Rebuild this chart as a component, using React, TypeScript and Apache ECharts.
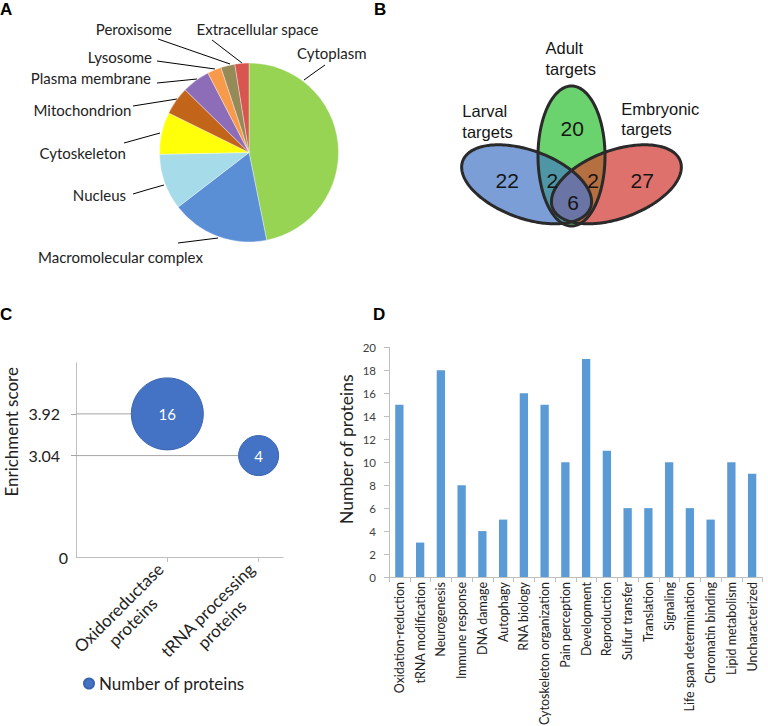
import React, { useEffect, useRef } from "react";
import * as echarts from "echarts";

// ---------- Data ----------
const pieNames = [
  "Cytoplasm",
  "Macromolecular complex",
  "Nucleus",
  "Cytoskeleton",
  "Mitochondrion",
  "Plasma membrane",
  "Lysosome",
  "Peroxisome",
  "Extracellular space",
];
const pieValues = [37, 14, 8, 6, 4, 4, 2, 2, 2];
const pieColors = ["#97D454", "#5A8FD6", "#A6DBE9", "#FFFF0A", "#C2651B", "#8E6DB8", "#F89A4C", "#968B58", "#D95550"];

const vennRegions = ["Adult only", "Larval only", "Embryonic only", "Larval & Adult", "Adult & Embryonic", "All three"];
const vennCounts = [20, 22, 27, 2, 2, 6];

const enrichCategories = [["Oxidoreductase", "proteins"], ["tRNA processing", "proteins"]];
const enrichScores = [3.92, 3.04];
const enrichCounts = [16, 4];
const enrichAxisFloor = 0.9; // broken axis floor, labelled "0"

const bioCategories = [
  "Oxidation-reduction", "tRNA modification", "Neurogenesis", "Immune response", "DNA damage",
  "Autophagy", "RNA biology", "Cytoskeleton organization", "Pain perception", "Development",
  "Reproduction", "Sulfur transfer", "Translation", "Signaling", "Life span determination",
  "Chromatin binding", "Lipid metabolism", "Uncharacterized",
];
const bioCounts = [15, 3, 18, 8, 4, 5, 16, 15, 10, 19, 11, 6, 6, 10, 6, 5, 10, 9];

// ---------- Layout helpers ----------
const CAL = "Lato, 'Open Sans', sans-serif";
const ARIAL = "'Liberation Sans', Arial, sans-serif";

const pieLabelPos: any[] = [
  { x: 297, y: 53, align: "left", line: [[325, 65], [315, 72], [304, 80]] },
  { x: 38, y: 257, align: "left", line: [[178, 243], [198, 240.5], [218, 238]] },
  { x: 126, y: 195, align: "right", line: [[133, 194], [148, 189.5], [164, 185]] },
  { x: 126, y: 152.5, align: "right", line: [[124, 143], [142, 138], [160, 133]] },
  { x: 131.5, y: 110, align: "right", line: [[133, 106], [155, 102.5], [177, 99]] },
  { x: 151, y: 78, align: "right", line: [[157, 83], [177, 81], [197, 79]] },
  { x: 152, y: 57, align: "right", line: [[157, 61], [186, 65], [215, 69]] },
  { x: 172, y: 28.5, align: "right", line: [[158, 39], [194, 51.5], [230, 64]] },
  { x: 196.5, y: 28.5, align: "left", line: [[212, 40], [227, 51.5], [242, 63]] },
];

type Ell = { cx: number; cy: number; rx: number; ry: number; deg: number };
const eAdult: Ell = { cx: 571.5, cy: 156, rx: 33.5, ry: 70, deg: 0 };
const eLarval: Ell = { cx: 526.6, cy: 184.3, rx: 68, ry: 34, deg: 20 };
const eEmbryo: Ell = { cx: 616.4, cy: 184.3, rx: 68, ry: 34, deg: -20 };

function ellipsePts(e: Ell, n = 240): number[][] {
  const t = (e.deg * Math.PI) / 180;
  const c = Math.cos(t), s = Math.sin(t);
  const pts: number[][] = [];
  for (let i = 0; i < n; i++) {
    const a = (2 * Math.PI * i) / n;
    const x = e.rx * Math.cos(a), y = e.ry * Math.sin(a);
    pts.push([e.cx + x * c - y * s, e.cy + x * s + y * c]);
  }
  return pts;
}
function inside(p: number[], e: Ell) {
  const t = (e.deg * Math.PI) / 180;
  const c = Math.cos(t), s = Math.sin(t);
  const dx = p[0] - e.cx, dy = p[1] - e.cy;
  const u = dx * c + dy * s, v = -dx * s + dy * c;
  return (u / e.rx) ** 2 + (v / e.ry) ** 2 <= 1.0001;
}
function intersection(es: Ell[]): number[][] {
  const pts: number[][] = [];
  es.forEach((e) => {
    ellipsePts(e, 720).forEach((p) => {
      if (es.every((o) => o === e || inside(p, o))) pts.push(p);
    });
  });
  if (!pts.length) return pts;
  const mx = pts.reduce((a, p) => a + p[0], 0) / pts.length;
  const my = pts.reduce((a, p) => a + p[1], 0) / pts.length;
  pts.sort((a, b) => Math.atan2(a[1] - my, a[0] - mx) - Math.atan2(b[1] - my, b[0] - mx));
  return pts;
}

const vennNumPos = [
  [572.3, 128], [507.3, 180.5], [642.3, 180.5], [552.3, 180.5], [593, 180.5], [573, 202.5],
];

function buildOption(): any {
  const graphics: any[] = [];
  // panel letters
  const letters = [["A", 0, 9], ["B", 374, 9], ["C", 0, 314], ["D", 373, 314]];
  letters.forEach(([t, x, y]) =>
    graphics.push({
      type: "text",
      style: { text: t, x, y, font: `bold 17px ${ARIAL}`, fill: "#000", verticalAlign: "middle", textVerticalAlign: "middle" },
    })
  );
  // Venn fills
  const fill = (pts: number[][], color: string) => ({ type: "polygon", shape: { points: pts }, style: { fill: color }, silent: true });
  graphics.push(fill(ellipsePts(eLarval), "#7B9ED6"));
  graphics.push(fill(ellipsePts(eEmbryo), "#DE716B"));
  graphics.push(fill(ellipsePts(eAdult), "#6BD36E"));
  graphics.push(fill(intersection([eLarval, eAdult]), "#4E96A6"));
  graphics.push(fill(intersection([eEmbryo, eAdult]), "#B66F40"));
  graphics.push(fill(intersection([eLarval, eEmbryo]), "#6A75A6"));
  [eLarval, eEmbryo, eAdult].forEach((e) =>
    graphics.push({
      type: "polygon",
      shape: { points: ellipsePts(e) },
      style: { fill: "none", stroke: "#2A2A2A", lineWidth: 3 },
      silent: true,
    })
  );
  vennCounts.forEach((v, i) =>
    graphics.push({
      type: "text",
      style: {
        text: String(v), x: vennNumPos[i][0], y: vennNumPos[i][1],
        font: `21px ${ARIAL}`, fill: "#151515",
        align: "center", verticalAlign: "middle", textAlign: "center", textVerticalAlign: "middle",
      },
    })
  );
  const setLabels = [
    ["Adult", "targets", 545.5, 48.3],
    ["Larval", "targets", 462.3, 111],
    ["Embryonic", "targets", 621.3, 108.5],
  ];
  setLabels.forEach(([a, b, x, y]: any) => {
    [a, b].forEach((t: string, k: number) =>
      graphics.push({
        type: "text",
        style: {
          text: t, x, y: y + k * 20.5, font: `16.5px ${ARIAL}`, fill: "#151515",
          align: "left", verticalAlign: "middle", textAlign: "left", textVerticalAlign: "middle",
        },
      })
    );
  });

  return {
    animation: false,
    backgroundColor: "#fff",
    graphic: graphics,
    legend: {
      data: ["Number of proteins"],
      left: 78,
      top: 670,
      icon: "circle",
      itemWidth: 10,
      itemHeight: 10,
      itemGap: 5,
      textStyle: { fontFamily: CAL, fontSize: 17, color: "#222" },
      selectedMode: false,
    },
    grid: [
      { left: 76, top: 362.7, width: 207, height: 194.3, outerBoundsMode: "none" },
      { left: 389, top: 347.4, width: 373.5, height: 229.6, outerBoundsMode: "none" },
    ],
    xAxis: [
      {
        gridIndex: 0,
        type: "value",
        min: 0,
        max: 2.267,
        splitLine: { show: false },
        axisLine: { show: true, lineStyle: { color: "#BFBFBF" } },
        axisTick: { show: true, customValues: [1, 2], length: 5, lineStyle: { color: "#BFBFBF" } },
        axisLabel: {
          customValues: [1, 2],
          rotate: 45,
          margin: 16,
          formatter: (v: number) => {
            const c = enrichCategories[Math.round(v) - 1];
            return c ? `{t|${c[0]}}\n{t|${c[1]}}` : "";
          },
          rich: { t: { align: "center", fontFamily: CAL, fontSize: 17, color: "#222", lineHeight: 20 } },
        },
      },
      {
        gridIndex: 1,
        type: "category",
        data: bioCategories,
        axisLine: { show: true, lineStyle: { color: "#BFBFBF" } },
        axisTick: { show: true, alignWithLabel: false, interval: 0, length: 5, lineStyle: { color: "#BFBFBF" } },
        axisLabel: { rotate: 90, interval: 0, fontFamily: CAL, fontSize: 12.5, color: "#222", margin: 5 },
      },
    ],
    yAxis: [
      {
        gridIndex: 0,
        type: "value",
        min: enrichAxisFloor,
        max: 5,
        splitLine: { show: false },
        axisLine: { show: true, lineStyle: { color: "#BFBFBF" } },
        axisTick: { show: true, customValues: enrichScores, length: 5, lineStyle: { color: "#A6A6A6" } },
        axisLabel: {
          customValues: [enrichAxisFloor, ...enrichScores],
          formatter: (v: number) => (v < 1 ? "{z|0}" : `{n|${v.toFixed(2)}}`),
          rich: {
            z: { fontFamily: CAL, fontSize: 16, color: "#222" },
            n: { fontFamily: CAL, fontSize: 16, color: "#222", padding: [0, 8, 0, 0] },
          },
          margin: 8,
        },
        name: "Enrichment score",
        nameLocation: "middle",
        nameRotate: 90,
        nameGap: 56,
        nameTextStyle: { fontFamily: CAL, fontSize: 17, color: "#222", padding: [0, 0, 0, 56] },
      },
      {
        gridIndex: 1,
        type: "value",
        min: 0,
        max: 20,
        interval: 2,
        splitLine: { show: false },
        axisLine: { show: true, lineStyle: { color: "#BFBFBF" } },
        axisTick: { show: true, length: 5, lineStyle: { color: "#BFBFBF" } },
        axisLabel: { fontFamily: CAL, fontSize: 11.5, color: "#404040", margin: 13 },
        name: "Number of proteins",
        nameLocation: "middle",
        nameRotate: 90,
        nameGap: 34,
        nameTextStyle: { fontFamily: CAL, fontSize: 17.5, color: "#222", padding: [0, 0, 0, 26] },
      },
    ],
    series: [
      {
        type: "pie",
        center: [249, 152.5],
        radius: 89.5,
        startAngle: 90,
        clockwise: true,
        avoidLabelOverlap: false,
        silent: true,
        data: pieNames.map((n, i) => ({ name: n, value: pieValues[i], itemStyle: { color: pieColors[i] } })),
        itemStyle: { borderColor: "rgba(255,255,255,0.6)", borderWidth: 0.6 },
        label: { show: true, fontFamily: CAL, fontSize: 15, color: "#222" },
        labelLine: { show: true, lineStyle: { color: "#000", width: 1 } },
        labelLayout: (p: any) => {
          const L = pieLabelPos[p.dataIndex];
          return { x: L.x, y: L.y, align: L.align, verticalAlign: "middle", labelLinePoints: L.line };
        },
      },
      ...enrichScores.map((s, i) => ({
        type: "line",
        xAxisIndex: 0,
        yAxisIndex: 0,
        data: [[0, s], [i + 1, s]],
        symbol: "none",
        silent: true,
        z: 1,
        lineStyle: { color: "#A6A6A6", width: 1 },
      })),
      {
        name: "Number of proteins",
        type: "scatter",
        xAxisIndex: 0,
        yAxisIndex: 0,
        z: 3,
        data: enrichScores.map((s, i) => [i + 1, s, enrichCounts[i]]),
        symbolSize: (v: number[]) => 40 * Math.pow(v[2] / 4, 0.424),
        itemStyle: { color: "#4472C4", borderColor: "#3A64B0", borderWidth: 1, opacity: 1 },
        label: {
          show: true,
          position: "inside",
          formatter: (p: any) => String(p.value[2]),
          color: "#fff",
          fontFamily: CAL,
          fontSize: 15,
        },
      },
      {
        type: "bar",
        xAxisIndex: 1,
        yAxisIndex: 1,
        data: bioCounts,
        barWidth: 8.3,
        itemStyle: { color: "#5B9BD5" },
      },
    ],
  };
}

export default function App() {
  const ref = useRef<HTMLDivElement>(null);
  useEffect(() => {
    if (!ref.current) return;
    const chart = echarts.init(ref.current, undefined, { renderer: "svg" });
    chart.setOption(buildOption());
    return () => chart.dispose();
  }, []);
  return <div ref={ref} style={{ position: "absolute", left: 0, top: 0, width: 768, height: 726 }} />;
}
